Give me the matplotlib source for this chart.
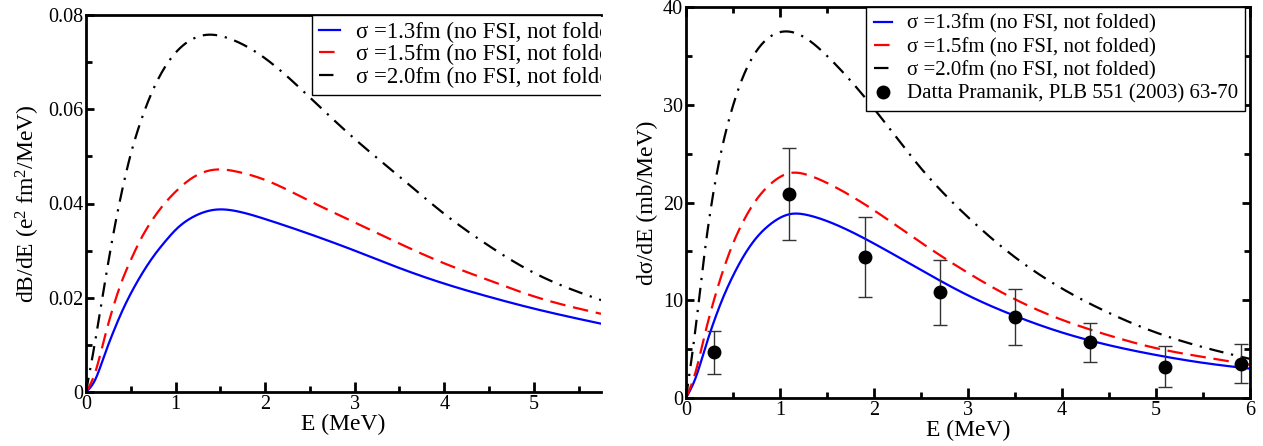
import matplotlib as mpl
import matplotlib.pyplot as plt
from matplotlib.lines import Line2D
import numpy as np

# left panel: dB/dE (e^2 fm^2/MeV) vs E (MeV)
e_left = [0.0, 0.1, 0.2, 0.3, 0.4, 0.5, 0.6, 0.75, 0.9, 1.0, 1.2, 1.45, 1.7, 2.0, 2.5, 3.0, 3.5, 4.0, 4.5, 5.0, 5.75]
b_13 = [0.0, 0.0025, 0.0075, 0.0125, 0.0170, 0.0209, 0.0243, 0.0287, 0.0323, 0.0344, 0.0372, 0.0387, 0.0383,
        0.0367, 0.0335, 0.0300, 0.0263, 0.0230, 0.0202, 0.0177, 0.0145]
b_15 = [0.0, 0.0040, 0.0110, 0.0178, 0.0235, 0.0280, 0.0320, 0.0368, 0.0405, 0.0425, 0.0456, 0.0472, 0.0467,
        0.0450, 0.0405, 0.0360, 0.0315, 0.0273, 0.0237, 0.0203, 0.0166]
e_left_20 = [0.0, 0.1, 0.2, 0.3, 0.4, 0.5, 0.6, 0.75, 0.9, 1.0, 1.2, 1.35, 1.6, 2.0, 2.5, 3.0, 3.5, 4.0, 4.5, 5.0, 5.75]
b_20 = [0.0, 0.0105, 0.0220, 0.0330, 0.0425, 0.0505, 0.0568, 0.0642, 0.0695, 0.0720, 0.0750, 0.0758, 0.0750,
        0.0708, 0.0625, 0.0537, 0.0457, 0.0378, 0.0310, 0.0253, 0.0195]

# right panel: dsigma/dE (mb/MeV) vs E (MeV)
e_right = [0.0, 0.1, 0.2, 0.3, 0.4, 0.5, 0.6, 0.75, 0.9, 1.1, 1.3, 1.5, 2.0, 2.5, 3.0, 3.5, 4.0, 4.5, 5.0, 5.5, 6.0]
s_13 = [0.0, 2.0, 5.0, 7.9, 10.4, 12.5, 14.3, 16.4, 17.8, 18.8, 18.7, 18.1, 15.8, 13.1, 10.5, 8.4, 6.7, 5.4, 4.4, 3.6, 3.0]
s_15 = [0.0, 2.6, 6.5, 10.1, 13.2, 15.8, 17.9, 20.3, 21.9, 23.0, 22.8, 22.0, 19.2, 15.9, 12.8, 10.1, 8.0, 6.4, 5.1, 4.2, 3.4]
e_right_20 = [0.0, 0.1, 0.2, 0.3, 0.4, 0.5, 0.6, 0.75, 0.9, 1.05, 1.2, 1.5, 2.0, 2.5, 3.0, 3.5, 4.0, 4.5, 5.0, 5.5, 6.0]
s_20 = [0.0, 7.0, 15.0, 21.5, 26.3, 29.9, 32.7, 35.5, 37.0, 37.5, 37.2, 35.0, 29.6, 23.5, 18.5, 14.4, 11.2, 8.7, 6.7, 5.2, 4.0]

# data points, Datta Pramanik PLB 551 (2003) 63-70
e_exp = [0.3, 1.1, 1.9, 2.7, 3.5, 4.3, 5.1, 5.9]
s_exp = [4.7, 20.9, 14.4, 10.8, 8.3, 5.7, 3.2, 3.5]
s_err = [2.2, 4.7, 4.1, 3.3, 2.9, 2.0, 2.1, 2.0]

labels = ["\u03c3 =1.3fm (no FSI, not folded)",
          "\u03c3 =1.5fm (no FSI, not folded)",
          "\u03c3 =2.0fm (no FSI, not folded)"]
exp_label = "Datta Pramanik, PLB 551 (2003) 63-70"


def smooth(x, y, n=600):
    # natural cubic spline through the read-off points
    x = np.asarray(x, float)
    y = np.asarray(y, float)
    npt = len(x)
    h = np.diff(x)
    A = np.zeros((npt, npt))
    r = np.zeros(npt)
    A[0, 0] = A[-1, -1] = 1.0
    for i in range(1, npt - 1):
        A[i, i - 1] = h[i - 1]
        A[i, i] = 2 * (h[i - 1] + h[i])
        A[i, i + 1] = h[i]
        r[i] = 6 * ((y[i + 1] - y[i]) / h[i] - (y[i] - y[i - 1]) / h[i - 1])
    M = np.linalg.solve(A, r)
    xs = np.linspace(x[0], x[-1], n)
    k = np.clip(np.searchsorted(x, xs) - 1, 0, npt - 2)
    a = x[k + 1] - xs
    b = xs - x[k]
    hk = h[k]
    ys = (M[k] * a**3 + M[k + 1] * b**3) / (6 * hk) \
        + (y[k] / hk - M[k] * hk / 6) * a + (y[k + 1] / hk - M[k + 1] * hk / 6) * b
    return xs, ys


mpl.rcParams["font.family"] = "Liberation Serif"
mpl.rcParams["mathtext.fontset"] = "custom"
mpl.rcParams["mathtext.rm"] = "Liberation Serif"
mpl.rcParams["mathtext.it"] = "Liberation Serif:italic"
mpl.rcParams["font.size"] = 14
mpl.rcParams["axes.linewidth"] = 2.0
mpl.rcParams["xtick.direction"] = "in"
mpl.rcParams["ytick.direction"] = "in"
mpl.rcParams["xtick.major.size"] = 7
mpl.rcParams["ytick.major.size"] = 6
mpl.rcParams["xtick.minor.size"] = 4
mpl.rcParams["ytick.minor.size"] = 4
mpl.rcParams["xtick.major.width"] = 2.0
mpl.rcParams["ytick.major.width"] = 2.0
mpl.rcParams["xtick.minor.width"] = 2.0
mpl.rcParams["ytick.minor.width"] = 2.0
mpl.rcParams["xtick.labelsize"] = 14.5
mpl.rcParams["ytick.labelsize"] = 14.5
mpl.rcParams["axes.labelsize"] = 17

styles = [
    {"color": "#0000ff", "linestyle": "-", "linewidth": 1.6},
    {"color": "#ff0000", "linestyle": (0, (7, 3.5)), "linewidth": 1.6},
    {"color": "black", "linestyle": (0, (6.5, 3.5, 1, 3.5)), "linewidth": 1.6},
]
leg_style = {"borderaxespad": 0, "fancybox": False, "framealpha": 1, "edgecolor": "black",
             "handlelength": 0.9, "handletextpad": 0.7}

fig = plt.figure(figsize=(12.63, 4.46), dpi=100)
ax1 = fig.add_axes([86 / 1263, 54 / 446, 515 / 1263, 377 / 446])
ax2 = fig.add_axes([686 / 1263, 48 / 446, 564 / 1263, 391 / 446])

# left panel
for (x, y), st, lab in zip([(e_left, b_13), (e_left, b_15), (e_left_20, b_20)], styles, labels):
    xs, ys = smooth(x, y)
    ax1.plot(xs, ys, label=lab, **st)
ax1.set_xlim(0, 5.75)
ax1.set_ylim(0, 0.08)
ax1.set_xticks([0, 1, 2, 3, 4, 5])
ax1.set_xticks(np.arange(0.5, 5.75, 1.0), minor=True)
ax1.set_yticks([0, 0.02, 0.04, 0.06, 0.08])
ax1.set_yticklabels(["0", "0.02", "0.04", "0.06", "0.08"])
ax1.set_yticks([0.01, 0.03, 0.05, 0.07], minor=True)
ax1.spines["right"].set_visible(False)
ax1.tick_params(which="both", top=False, right=False)
ax1.tick_params(axis="both", which="major", pad=2)
ax1.set_xlabel("E (MeV)", labelpad=0)
ax1.set_ylabel("dB/dE (e$^\\mathrm{2}$ fm$^\\mathrm{2}$/MeV)", labelpad=4)
leg1 = ax1.legend(loc="upper left", bbox_to_anchor=(0.439, 1.0), fontsize=16.5,
                  labelspacing=0.05, borderpad=0.3, **leg_style)
leg1.get_frame().set_linewidth(1.0)
leg1.get_frame().set_clip_box(ax1.bbox)
leg1.get_frame().set_clip_on(True)
for t in leg1.get_texts():
    t.set_clip_box(ax1.bbox)
    t.set_clip_on(True)

# right panel
handles = []
for (x, y), st, lab in zip([(e_right, s_13), (e_right, s_15), (e_right_20, s_20)], styles, labels):
    xs, ys = smooth(x, y)
    handles += ax2.plot(xs, ys, label=lab, **st)
ax2.errorbar(e_exp, s_exp, yerr=s_err, fmt="o", color="black", ms=9,
             ecolor="#333333", elinewidth=1.0, capsize=5, capthick=1.0)
handles.append(Line2D([], [], marker="o", linestyle="none", color="black", ms=9))
ax2.set_xlim(0, 6)
ax2.set_ylim(0, 40)
ax2.set_xticks([0, 1, 2, 3, 4, 5, 6])
ax2.set_xticks(np.arange(0.5, 6, 1.0), minor=True)
ax2.set_yticks([0, 10, 20, 30, 40])
ax2.set_yticks([5, 15, 25, 35], minor=True)
ax2.tick_params(which="both", top=True, right=True)
ax2.tick_params(axis="both", which="major", pad=2)
ax2.set_xlabel("E (MeV)", labelpad=0)
ax2.set_ylabel("d\u03c3/dE (mb/MeV)", labelpad=4)
leg2 = ax2.legend(handles, labels + [exp_label], loc="upper right", bbox_to_anchor=(0.992, 1.0),
                  fontsize=15, labelspacing=0.18, borderpad=0.35, **leg_style)
leg2.get_frame().set_linewidth(1.0)

fig.savefig("out.png", dpi=100)
